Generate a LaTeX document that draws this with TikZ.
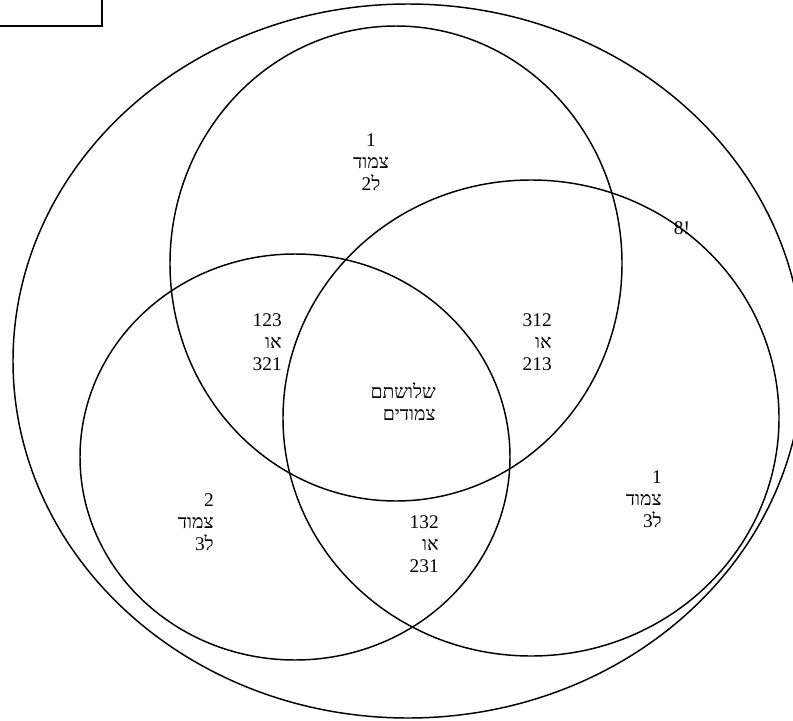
\documentclass[tikz,border=0pt]{standalone}
\usepackage{fontspec}
\setmainfont{Liberation Serif}
\newfontfamily\hebfont[Script=Hebrew]{Liberation Serif}
\TeXXeTstate=1
\newcommand{\heb}[1]{{\hebfont\beginR #1\endR}}

\begin{document}
\begin{tikzpicture}[x=0.75pt,y=0.75pt,yscale=-1,xscale=1,
  set/.style={line width=1.1pt},
  lbl/.style={inner sep=0.75pt,font=\fontsize{14.5}{16.5}\selectfont}]
\useasboundingbox (0,0) rectangle (793,721);

%Shape: Rectangle
\draw [line width=1.3pt]  (-5,-5) rectangle (102,26) ;
%Shape: Ellipse (all)
\draw [set]  (408,361) ellipse [x radius=395, y radius=357] ;
%Shape: Ellipse (top)
\draw [set]  (396,263.5) ellipse [x radius=226, y radius=237.5] ;
%Shape: Ellipse (left)
\draw [set]  (295,457) ellipse [x radius=215, y radius=203] ;
%Shape: Ellipse (right)
\draw [set]  (531,418) ellipse [x radius=248, y radius=238] ;

% Text Node
\draw (371,162) node (onlytop) [lbl,align=center]  {1\\\heb{צמוד}\\\heb{ל2}};
% Text Node
\draw (283,342) node (topleft) [lbl,anchor=east,align=right]  {123\\\heb{או}\\321};
% Text Node
\draw (553,342) node (topright) [lbl,anchor=east,align=right]  {312\\\heb{או}\\213};
% Text Node
\draw (437,402) node (allthree) [lbl,anchor=east,align=right]  {\heb{שלושתם}\\\heb{צמודים}};
% Text Node
\draw (440,544) node (leftright) [lbl,anchor=east,align=right]  {132\\\heb{או}\\231};
% Text Node
\draw (215,522) node (onlyleft) [lbl,anchor=east,align=right]  {2\\\heb{צמוד}\\\heb{ל3}};
% Text Node
\draw (663,499) node (onlyright) [lbl,anchor=east,align=right]  {1\\\heb{צמוד}\\\heb{ל3}};
% Text Node
\draw (682,228) node (total) [lbl]  {8!};

\end{tikzpicture}
\end{document}
